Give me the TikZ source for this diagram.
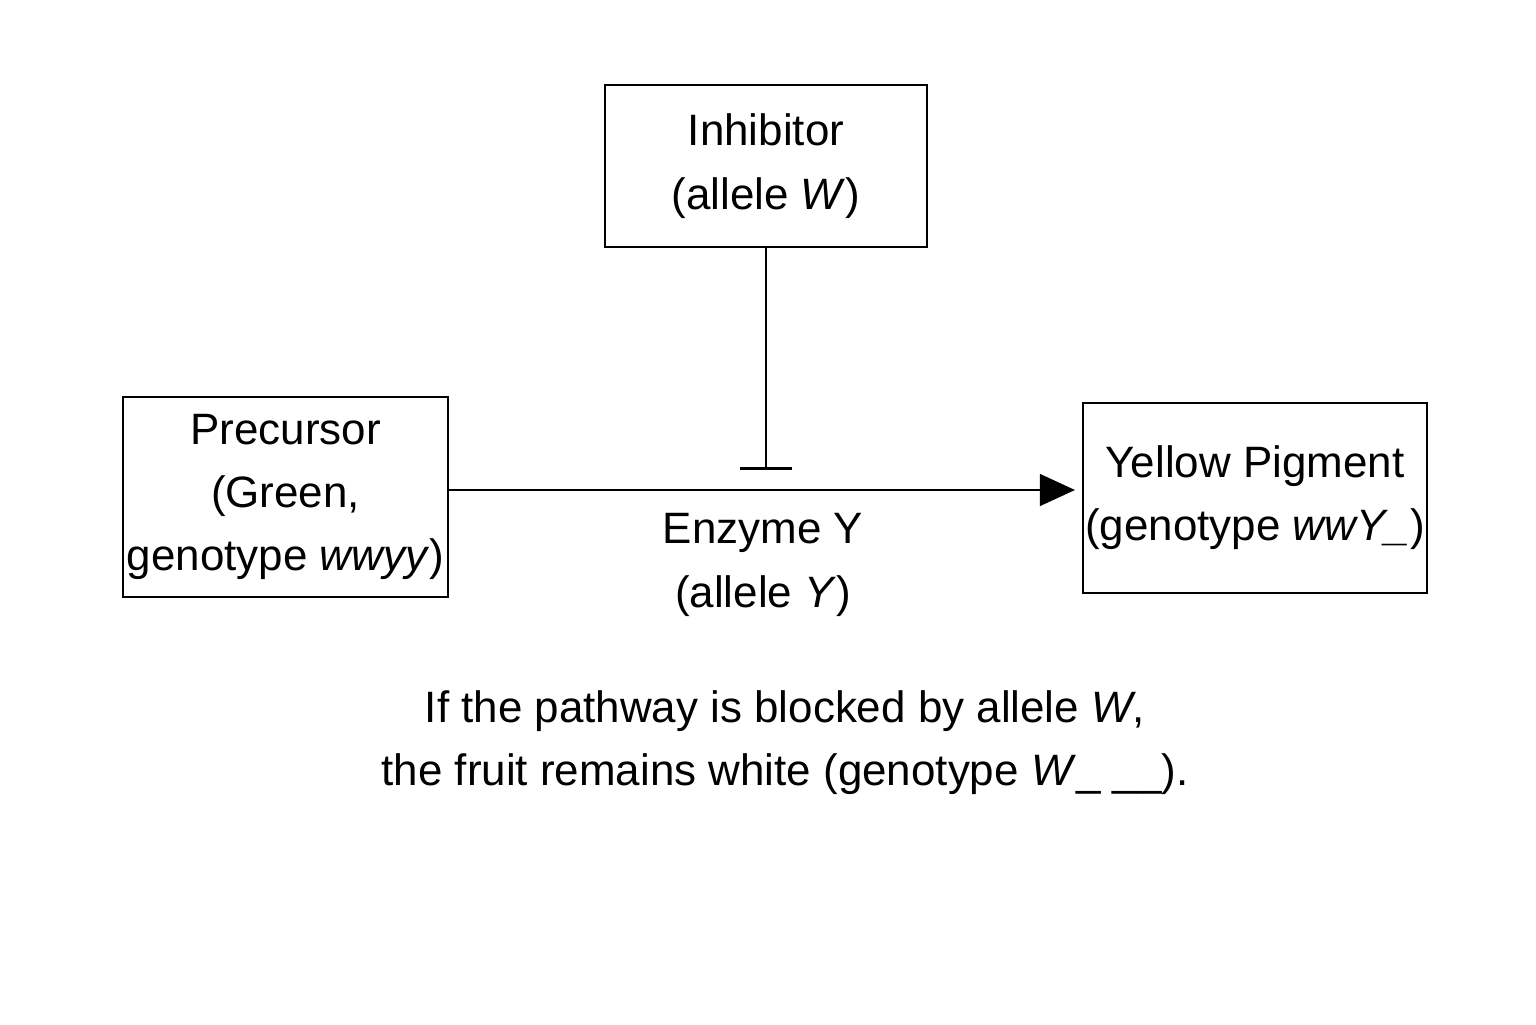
\documentclass[tikz,border=0pt]{standalone}
\usepackage{fontspec}
\setmainfont{Liberation Sans}
\usetikzlibrary{arrows.meta, positioning}

\begin{document}
\begin{tikzpicture}[
        box/.style = {rectangle, draw, thick, align=center, inner sep=0pt},
        pil/.style = {black, thick, -{Triangle[length=10pt,width=9pt]}},
        font=\fontsize{12.5}{18}\selectfont
        ]
        \useasboundingbox (0,0) rectangle (15.36,10.24);

        \node[box, minimum width=3.22cm, minimum height=1.62cm] (inhib) at (7.66,8.58) {Inhibitor\\(allele \emph{W})};
        \node[box, minimum width=3.25cm, minimum height=2.0cm] (pre) at (2.855,5.27) {Precursor\\(Green,\\genotype \emph{wwyy})};
        \node[box, minimum width=3.44cm, minimum height=1.9cm] (yellow) at (12.55,5.26) {Yellow Pigment\\(genotype \emph{wwY\_})};
        \coordinate (tip) at (10.75,5.34);
        \coordinate (bar) at (7.66,5.54);

        \node[align=center] (enz) at (7.63,4.59) {Enzyme Y\\(allele \emph{Y})};
        \node[align=center] (note) at (7.85,2.81) {If the pathway is blocked by allele \emph{W},\\ the fruit remains white (genotype \emph{W}\_ \_\_).};

        \draw[pil] (pre.east |- tip) -- (tip);
        \draw[thick, -{Bar[width=15pt]}] (inhib) -- (bar);

      \end{tikzpicture}
\end{document}
